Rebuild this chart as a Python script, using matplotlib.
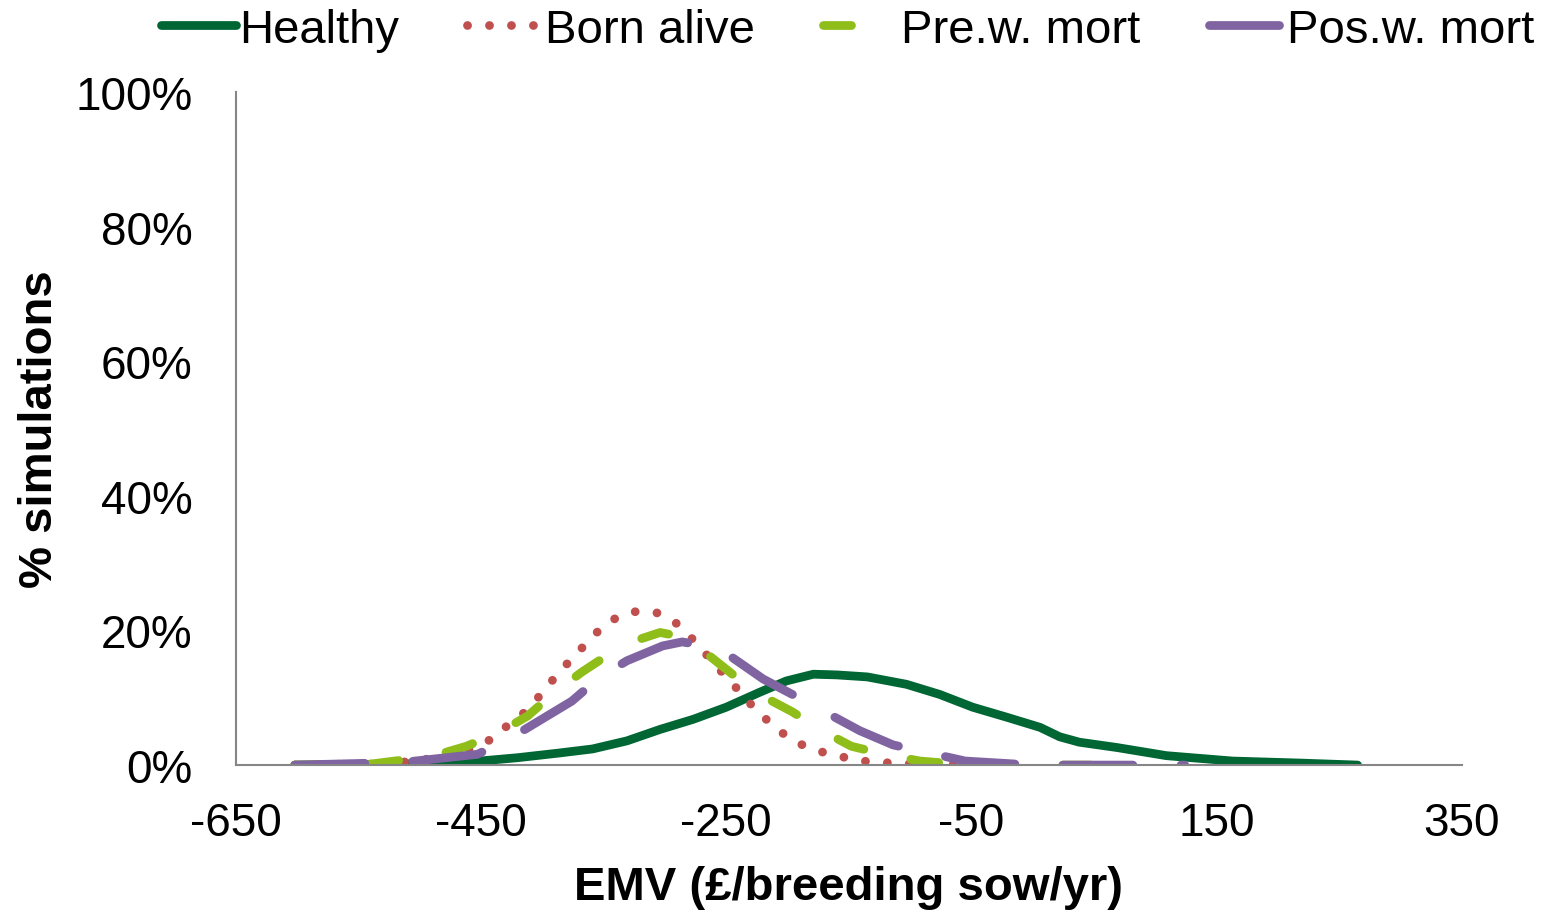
import matplotlib
matplotlib.use('Agg')
import matplotlib.pyplot as plt
from matplotlib.lines import Line2D
from matplotlib.ticker import FuncFormatter

plt.rcParams['font.family'] = ['Liberation Sans', 'DejaVu Sans']
plt.rcParams['axes.unicode_minus'] = False

# values (EMV in GBP, share of simulations in %)
healthy_x = [-602, -520, -451, -420, -386, -359, -331, -304, -277, -250, -223, -201,
             -179, -160, -135, -103, -76, -49, -21, 6, 22, 38, 69, 109, 163, 218, 265]
healthy_y = [0, 0.1, 0.6, 1.1, 1.8, 2.4, 3.6, 5.3, 6.8, 8.6, 10.8, 12.5,
             13.5, 13.4, 13.1, 12.0, 10.5, 8.6, 7.1, 5.6, 4.2, 3.4, 2.6, 1.4, 0.6, 0.3, 0]

born_x = [-602, -520, -480, -457, -441, -429, -416, -405, -395, -384, -373, -362, -351,
          -338, -322, -306, -291, -280, -269, -258, -247, -236, -225, -213, -201, -186,
          -171, -155, -139, -123, -107, -39]
born_y = [0, 0.3, 1.2, 2.5, 3.9, 5.8, 7.6, 9.7, 11.9, 14.3, 16.3, 18.6, 20.5,
          22.1, 22.9, 22.6, 21.1, 19.2, 17.0, 14.7, 12.5, 10.3, 8.0, 6.1, 4.3, 2.8,
          1.9, 1.2, 0.6, 0.4, 0.2, 0]

prew_x = [-602, -538, -490, -462, -435, -412, -390, -368, -343, -319, -304, -290, -267,
          -245, -223, -196, -174, -148, -121, -92, -65, -30, 49]
prew_y = [0, 0.2, 1.3, 2.8, 4.9, 7.3, 10.8, 13.8, 16.8, 18.8, 19.7, 19.2, 16.7,
          13.5, 10.5, 7.9, 5.3, 2.8, 1.6, 0.6, 0.2, 0, 0]

posw_x = [-602, -514, -453, -427, -376, -353, -331, -302, -286, -270, -250, -220,
          -192, -141, -114, -55, 0, 124]
posw_y = [0, 0.4, 1.6, 3.9, 9.5, 13.1, 15.5, 17.7, 18.3, 17.8, 16.6, 12.8,
          10.1, 5.1, 3.0, 0.6, 0, 0]

names = ['Healthy', 'Born alive', 'Pre.w. mort', 'Pos.w. mort']
colors = ['#006633', '#C0504D', '#8FBE1B', '#8064A2']
styles = ['-', (0, (0.01, 2.5)), (0, (3.2, 5.5)), (0, (8, 5.5))]

xticks = [-650, -450, -250, -50, 150, 350]
yticks = [0, 20, 40, 60, 80, 100]

fig = plt.figure(figsize=(15.42, 9.12), dpi=100)
ax = fig.add_axes([0.153, 0.160, 0.795, 0.738])

lw = 6.3
series = [(healthy_x, healthy_y), (born_x, born_y), (prew_x, prew_y), (posw_x, posw_y)]
for (xs, ys), c, ls in zip(series, colors, styles):
    ax.plot(xs, ys, color=c, lw=lw, linestyle=ls, solid_capstyle='round',
            dash_capstyle='round', solid_joinstyle='round')

ax.set_xlim(-650, 350)
ax.set_ylim(0, 100)
ax.set_xticks(xticks)
ax.set_yticks(yticks)
ax.yaxis.set_major_formatter(FuncFormatter(lambda v, p: '{:.0f}%'.format(v)))
ax.tick_params(axis='both', length=0, labelsize=33)
ax.tick_params(axis='y', pad=31)
ax.tick_params(axis='x', pad=26)

for s in ['top', 'right']:
    ax.spines[s].set_visible(False)
for s in ['left', 'bottom']:
    ax.spines[s].set_color('#868686')
    ax.spines[s].set_linewidth(1.5)

ax.set_xlabel('EMV (£/breeding sow/yr)', fontsize=34, fontweight='bold', labelpad=14)
ax.set_ylabel('% simulations', fontsize=34, fontweight='bold', labelpad=10)

# legend handles: the dashed ones show a single dash like the original
leg_styles = ['-', (0, (0.01, 2.5)), (0, (3.2, 20)), (0, (8, 20))]
handles = [Line2D([], [], color=c, lw=lw, linestyle=ls, solid_capstyle='round',
                  dash_capstyle='round') for c, ls in zip(colors, leg_styles)]
fig.legend(handles, names, loc='center', bbox_to_anchor=(0.5496, 0.966), ncol=4,
           frameon=False, fontsize=34, handlelength=1.6, handletextpad=0.05,
           columnspacing=1.45, borderpad=0, borderaxespad=0)

fig.savefig('out.png', dpi=100)
